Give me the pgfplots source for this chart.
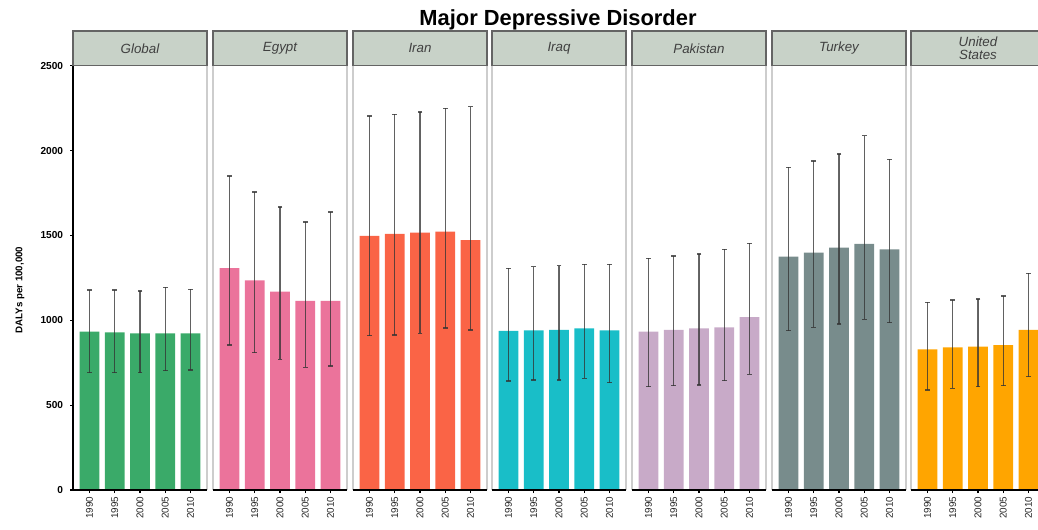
\documentclass[border=0pt]{standalone}
\usepackage{pgfplots}
\pgfplotsset{compat=1.18}
\usepackage{pgfplotstable}
\usepackage{fontspec}
\setmainfont{Liberation Sans}

\definecolor{cglobal}{RGB}{58,170,105}
\definecolor{cegypt}{RGB}{235,115,155}
\definecolor{ciran}{RGB}{250,100,70}
\definecolor{ciraq}{RGB}{25,190,200}
\definecolor{cpak}{RGB}{200,170,200}
\definecolor{cturkey}{RGB}{120,140,140}
\definecolor{cus}{RGB}{255,165,0}
\definecolor{stripfill}{RGB}{200,210,200}
\definecolor{stripdraw}{RGB}{100,100,100}
\definecolor{sidegray}{RGB}{205,205,205}

\pgfplotstableread{
x v lo hi
1 933 691 1179
2 929 691 1179
3 923 691 1173
4 923 703 1194
5 923 707 1183
}\tglobal
\pgfplotstableread{
x v lo hi
1 1308 854 1850
2 1235 809 1756
3 1169 770 1668
4 1114 723 1579
5 1114 731 1638
}\tegypt
\pgfplotstableread{
x v lo hi
1 1497 909 2204
2 1509 913 2214
3 1516 923 2227
4 1522 956 2249
5 1473 943 2259
}\tiran
\pgfplotstableread{
x v lo hi
1 937 642 1306
2 941 648 1316
3 943 648 1322
4 953 658 1330
5 941 632 1330
}\tiraq
\pgfplotstableread{
x v lo hi
1 933 609 1365
2 943 615 1379
3 953 619 1391
4 959 644 1418
5 1018 682 1454
}\tpak
\pgfplotstableread{
x v lo hi
1 1375 939 1901
2 1399 959 1939
3 1428 978 1980
4 1450 1006 2088
5 1418 986 1949
}\tturkey
\pgfplotstableread{
x v lo hi
1 829 589 1106
2 841 599 1120
3 845 609 1126
4 853 615 1143
5 943 668 1277
}\tus

\pgfplotsset{
  panel/.style={
    scale only axis, width=100.5pt, height=318.2pt,
    anchor=south west,
    ymin=0, ymax=2500, xmin=0.35, xmax=5.65,
    xtick={1,2,3,4,5},
    xticklabels={1990,1995,2000,2005,2010},
    xticklabel style={rotate=90, anchor=east, font=\fontsize{7.4}{8}\selectfont, inner sep=2.5pt, text=black!85},
    ytick=\empty,
    axis line style={draw=none},
    tick align=outside,
    xtick pos=bottom,
    major tick length=2.25pt,
    tick style={black, line width=0.8pt},
    clip=false,
    /pgf/number format/assume math mode=true,
    /pgf/number format/1000 sep={},
  },
  capmark/.style={only marks, mark=-, mark size=1.7pt,
    mark options={draw=black!80, opacity=0.8, line width=1.1pt}},
}

\newcommand{\panel}[5][]{%
\begin{axis}[panel, at={({#2*0.75pt},{-490*0.75pt})}, #1]
\addplot[ybar, fill=#3, draw=none, bar width=0.78, bar shift=0pt,
  error bars/.cd, y dir=both, y explicit, error mark=none,
  error bar style={black!80, opacity=0.75, line width=0.9pt}]
  table[x=x, y=v, y error plus expr=\thisrow{hi}-\thisrow{v}, y error minus expr=\thisrow{v}-\thisrow{lo}] {#4};
\addplot[capmark] table[x=x, y=hi] {#4};
\addplot[capmark] table[x=x, y=lo] {#4};
\draw[sidegray, line width=1.2pt] (rel axis cs:0,0) -- (rel axis cs:0,1);
\draw[sidegray, line width=1.2pt] (rel axis cs:1,0) -- (rel axis cs:1,1);
\draw[black, line width=1.1pt] (rel axis cs:0,0) -- (rel axis cs:1,0);
\draw[stripdraw, fill=stripfill, line width=1.1pt] (rel axis cs:0,1) rectangle ([yshift=26pt]rel axis cs:1,1);
\node[font=\itshape\fontsize{10}{10.5}\selectfont, align=center, text=black!75] at ([yshift=13pt]rel axis cs:0.5,1) {#5};
\end{axis}}

\begin{document}
\begin{tikzpicture}
\panel[ytick={0,500,1000,1500,2000,2500}, ytick pos=left,
  yticklabel style={font=\bfseries\fontsize{7.6}{8}\selectfont, inner sep=0pt, xshift=-5pt}]{73}{cglobal}{\tglobal}{Global}
\draw[black, line width=1.1pt] ({73*0.75pt},{-490*0.75pt}) -- ({73*0.75pt},{-65.7*0.75pt});
\panel{213}{cegypt}{\tegypt}{Egypt}
\panel{353}{ciran}{\tiran}{Iran}
\panel{492}{ciraq}{\tiraq}{Iraq}
\panel{632}{cpak}{\tpak}{Pakistan}
\panel{772}{cturkey}{\tturkey}{Turkey}
\panel{911}{cus}{\tus}{United\\[-1pt]States}
\node[font=\bfseries\fontsize{16.4}{17}\selectfont] at ({558*0.75pt},{-20*0.75pt}) {Major Depressive Disorder};
\node[font=\bfseries\fontsize{7.3}{8}\selectfont, rotate=90] at ({20*0.75pt},{-290*0.75pt}) {DALYs per 100,000};
\pgfresetboundingbox
\path[use as bounding box] (0,0) rectangle ({1038*0.75pt},{-529*0.75pt});
\end{tikzpicture}
\end{document}
